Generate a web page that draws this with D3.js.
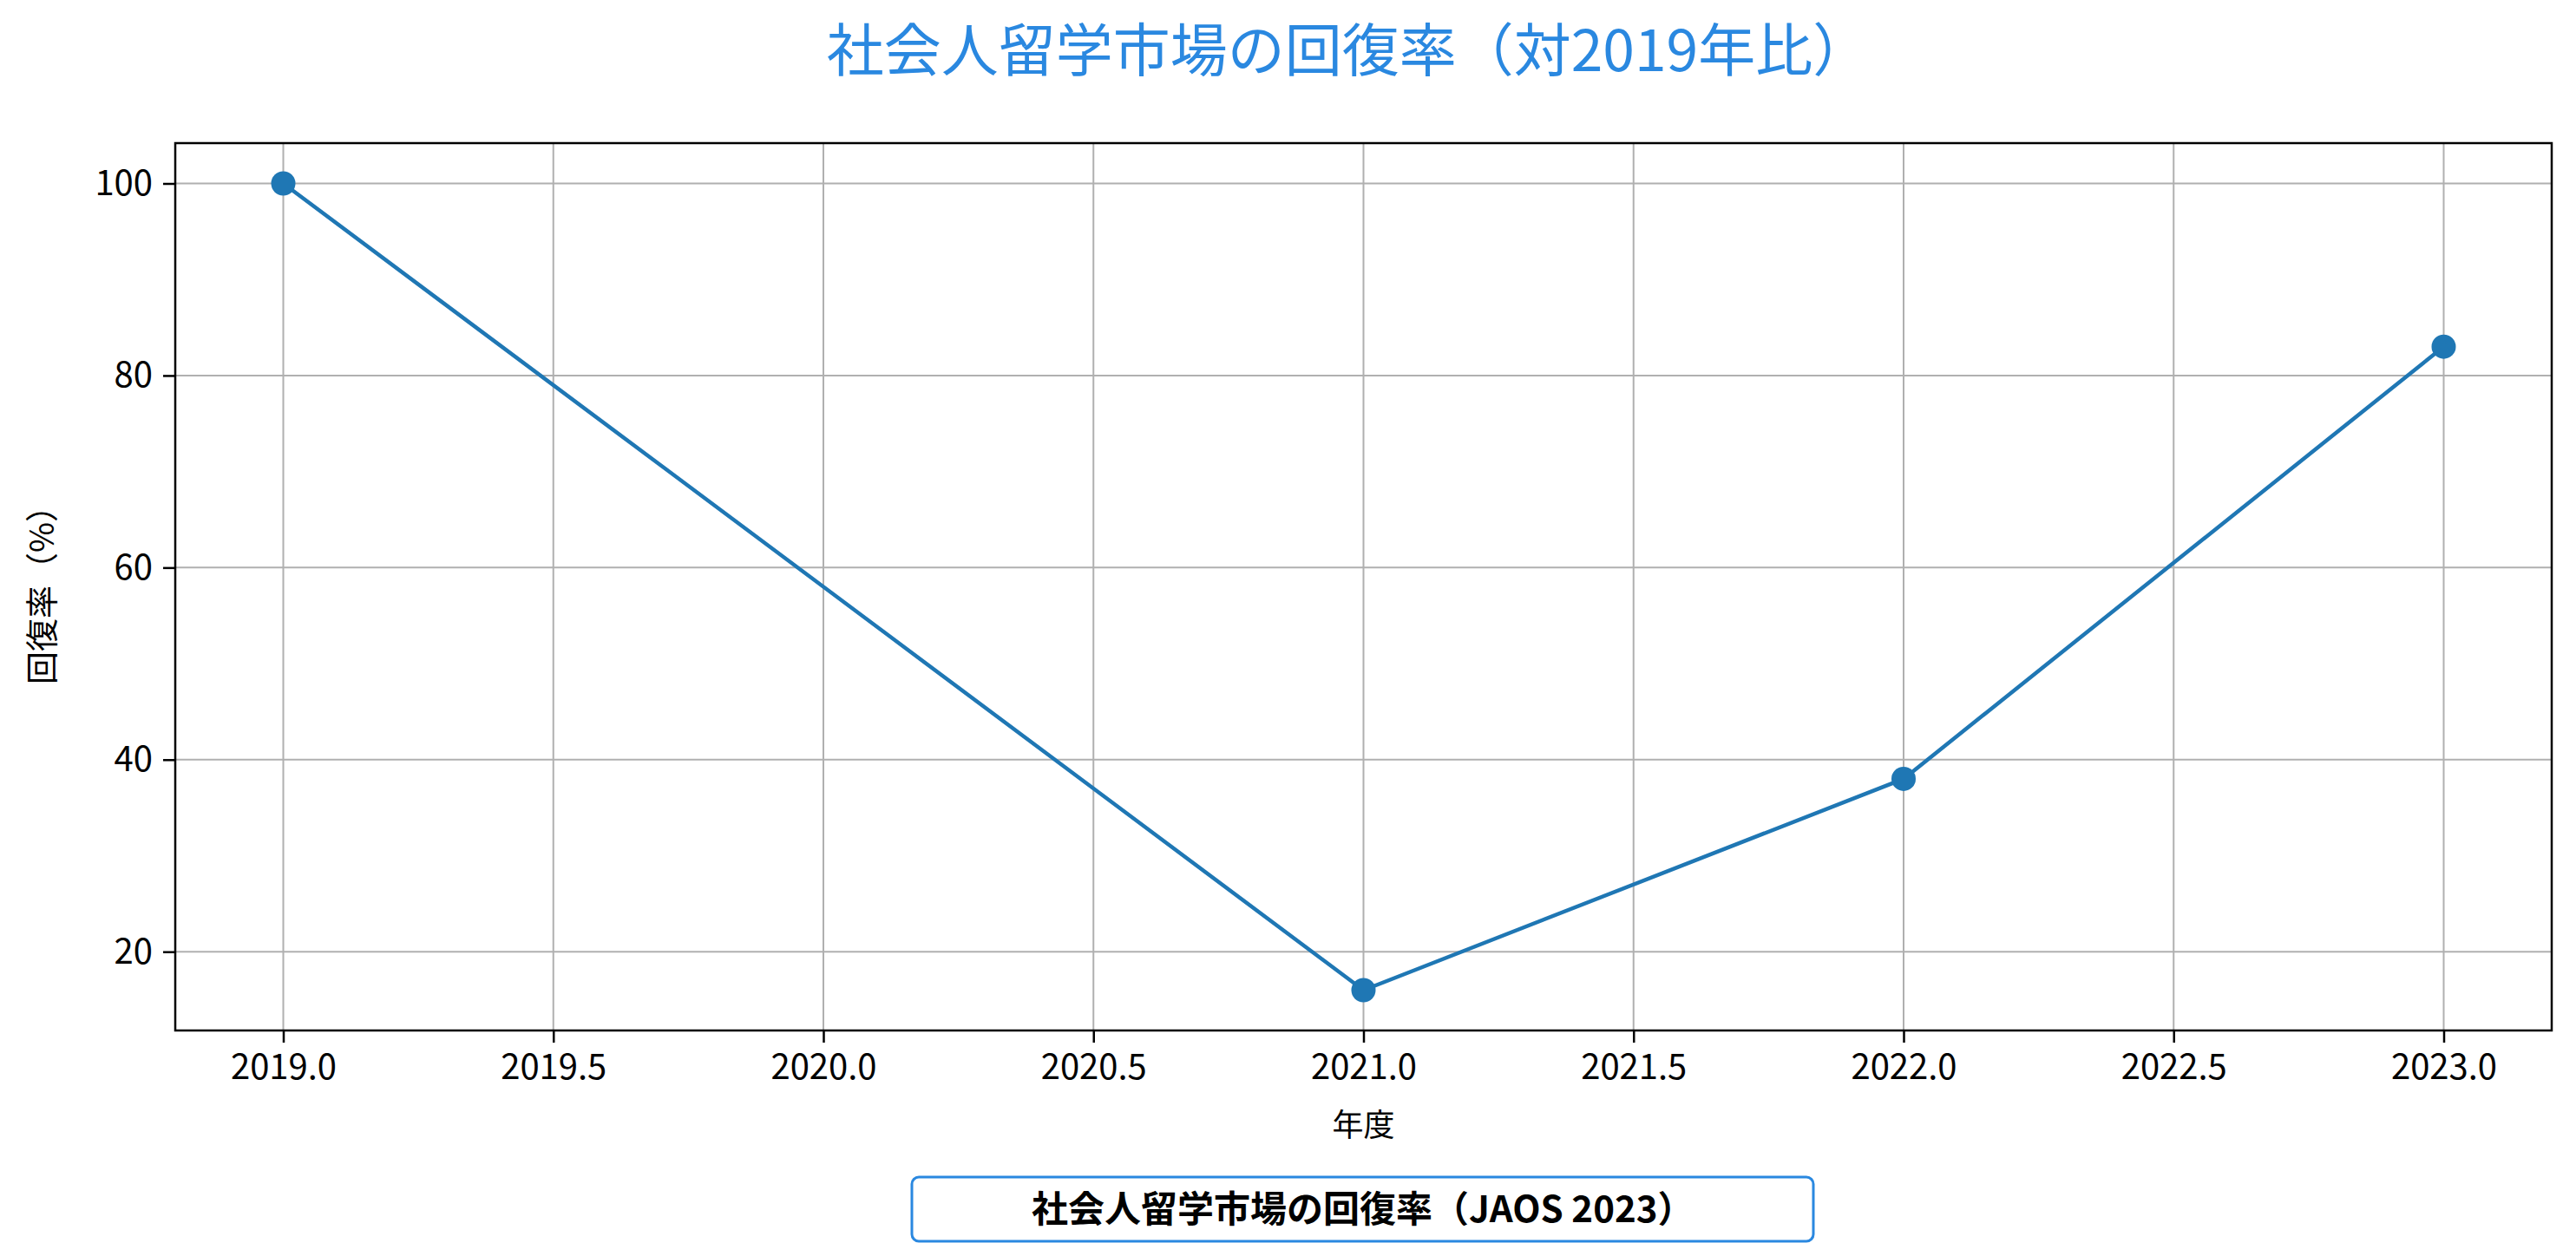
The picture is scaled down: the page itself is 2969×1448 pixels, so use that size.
<!DOCTYPE html>
<html><head><meta charset="utf-8">
<script src="https://cdn.jsdelivr.net/npm/d3@7"></script>
<style>body{margin:0;background:#fff}text{font-family:"Noto Sans CJK JP","Noto Sans",sans-serif}</style>
</head><body>
<svg id="c" width="2969" height="1448"></svg>
<script>
const years = [2019, 2021, 2022, 2023];
const rates = [100, 16, 38, 83];
const xTicks = [2019.0, 2019.5, 2020.0, 2020.5, 2021.0, 2021.5, 2022.0, 2022.5, 2023.0];
const yTicks = [20, 40, 60, 80, 100];
const title = "社会人留学市場の回復率（対2019年比）";
const legendLabel = "社会人留学市場の回復率（JAOS 2023）";

const svg = d3.select("#c");
const L = 202, R = 2941, T = 165, B = 1188;
const x = d3.scaleLinear().domain([2018.8, 2023.2]).range([L, R]);
const y = d3.scaleLinear().domain([11.8, 104.2]).range([B, T]);

svg.append("g").selectAll("line").data(xTicks).join("line")
  .attr("x1", d => x(d)).attr("x2", d => x(d)).attr("y1", T).attr("y2", B)
  .attr("stroke", "#b0b0b0").attr("stroke-width", 2);
svg.append("g").selectAll("line").data(yTicks).join("line")
  .attr("y1", d => y(d)).attr("y2", d => y(d)).attr("x1", L).attr("x2", R)
  .attr("stroke", "#b0b0b0").attr("stroke-width", 2);

const xa = svg.append("g").attr("transform", `translate(0,${B})`)
  .call(d3.axisBottom(x).tickValues(xTicks).tickFormat(d3.format(".1f")).tickSize(14).tickPadding(14));
const ya = svg.append("g").attr("transform", `translate(${L},0)`)
  .call(d3.axisLeft(y).tickValues(yTicks).tickSize(14).tickPadding(12));
[xa, ya].forEach(a => {
  a.select(".domain").remove();
  a.selectAll("line").attr("stroke", "#000").attr("stroke-width", 2.5);
  a.selectAll("text").attr("font-size", 40).attr("fill", "#000");
});
svg.append("rect").attr("x", L).attr("y", T).attr("width", R - L).attr("height", B - T)
  .attr("fill", "none").attr("stroke", "#000").attr("stroke-width", 2.5);

const line = d3.line().x((d, i) => x(years[i])).y(d => y(d));
svg.append("path").datum(rates).attr("d", line).attr("fill", "none")
  .attr("stroke", "#1f77b4").attr("stroke-width", 4.5);
svg.append("g").selectAll("circle").data(rates).join("circle")
  .attr("cx", (d, i) => x(years[i])).attr("cy", d => y(d)).attr("r", 14).attr("fill", "#1f77b4");

svg.append("text").attr("x", 1554).attr("y", 82).attr("text-anchor", "middle")
  .attr("font-size", 66).attr("fill", "#2a88e0").text(title);
svg.append("text").attr("x", (L + R) / 2).attr("y", 1310).attr("text-anchor", "middle")
  .attr("font-size", 36).text("年度");
svg.append("text").attr("transform", `translate(62,${(T + B) / 2}) rotate(-90)`).attr("text-anchor", "middle")
  .attr("font-size", 38).text("回復率（%）");

svg.append("rect").attr("x", 1051).attr("y", 1357).attr("width", 1039).attr("height", 74).attr("rx", 8)
  .attr("fill", "#fff").attr("stroke", "#2a88e0").attr("stroke-width", 3);
svg.append("text").attr("x", 1189).attr("y", 1409).attr("font-size", 42).attr("font-weight", "bold")
  .text(legendLabel);
</script></body></html>
